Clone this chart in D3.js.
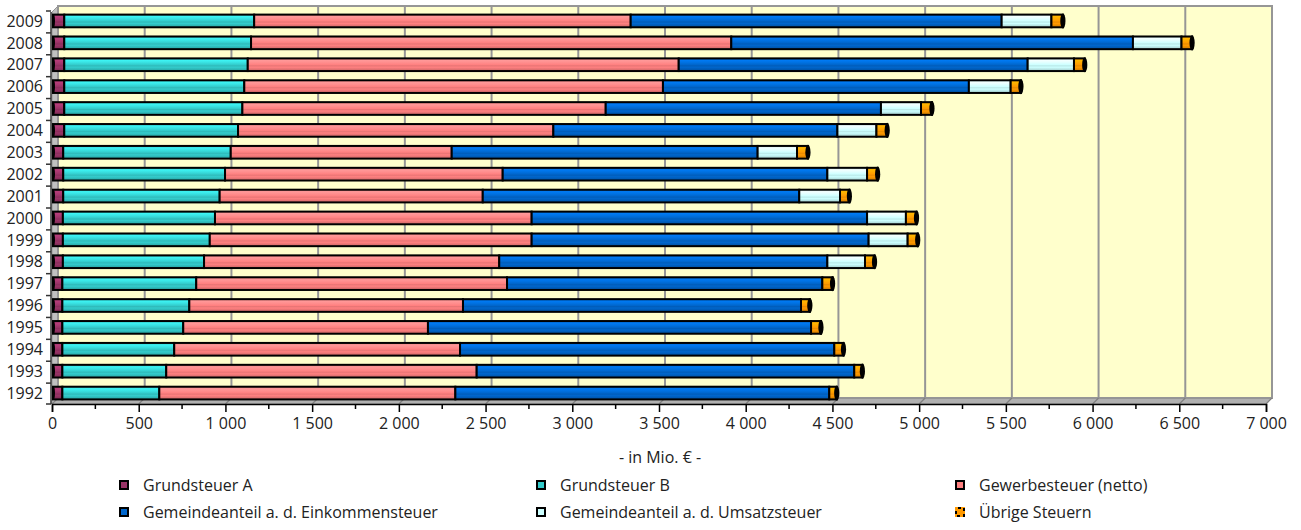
<!DOCTYPE html>
<html><head><meta charset="utf-8">
<script src="https://cdn.jsdelivr.net/npm/d3@7"></script>
<style>
html,body{margin:0;padding:0;background:#fff;}
svg{display:block;font-family:"Open Sans",sans-serif;}
</style></head>
<body>
<svg id="chart" width="1301" height="530"></svg>
<script>
// ---- data (Mio. €) ----
const years = ["1992","1993","1994","1995","1996","1997","1998","1999","2000","2001","2002","2003","2004","2005","2006","2007","2008","2009"];
const grundsteuerA   = [54,54,54,54,54,54,57,57,57,59,59,59,65,65,65,65,65,65];
const grundsteuerB   = [559,599,645,697,732,772,814,847,877,902,933,966,1002,1027,1038,1058,1077,1095];
const gewerbesteuer  = [1707,1790,1648,1411,1578,1792,1702,1856,1826,1517,1601,1274,1818,2095,2414,2485,2769,2171];
const einkommensteuer= [2156,2177,2158,2209,1949,1818,1892,1943,1934,1825,1872,1764,1638,1587,1764,2012,2316,2139];
const umsatzsteuer   = [0,0,0,0,0,0,217,225,224,235,229,227,225,231,241,267,280,287];
const uebrige        = [43,47,53,57,51,59,55,58,61,54,61,63,62,63,59,62,61,66];
const seriesNames = ["Grundsteuer A","Grundsteuer B","Gewerbesteuer (netto)","Gemeindeanteil a. d. Einkommensteuer","Gemeindeanteil a. d. Umsatzsteuer","Übrige Steuern"];
const seriesColors = ["#993366","#33CCCC","#FF8080","#0066CC","#CCFFFF","#FF9900"];
const xTicks = [0,500,1000,1500,2000,2500,3000,3500,4000,4500,5000,5500,6000,6500,7000];
const axisTitle = "- in Mio. € -";

const seriesValues = [grundsteuerA,grundsteuerB,gewerbesteuer,einkommensteuer,umsatzsteuer,uebrige];

const svg = d3.select("#chart");
const depthX = 6, depthY = 6;
const x = d3.scaleLinear().domain([0,7000]).range([52,1266]);
const xBar = d3.scaleLinear().domain([0,7000]).range([53,1267]);
const y = d3.scaleBand().domain(years.slice().reverse()).range([10,404]).paddingInner(0.42).paddingOuter(0.21);
const yBand = d3.scaleBand().domain(years.slice().reverse()).range([10,404]);
const axisY = 404;
const wallTop = 6, wallBottom = axisY - depthY;
const wallL = x(0)+depthX, wallR = x(7000)+depthX;

// gradients
const defs = svg.append("defs");
seriesColors.forEach((c,i)=>{
  const base = d3.color(c);
  const g = defs.append("linearGradient").attr("id","g"+i).attr("x1",0).attr("y1",0).attr("x2",0).attr("y2",1);
  const stops = [
    [0, base.darker(0.6)],
    [0.15, base.brighter(0.5)],
    [0.35, base.brighter(0.25)],
    [0.5, base],
    [0.58, base.darker(0.25)],
    [0.7, base],
    [1, base.darker(0.7)]
  ];
  stops.forEach(s=>g.append("stop").attr("offset",s[0]).attr("stop-color",s[1].formatHex()));
});

// left side wall
svg.append("polygon")
  .attr("points",[[x(0),axisY],[x(0),wallTop+depthY],[wallL,wallTop],[wallL,wallBottom]].map(p=>p.join(",")).join(" "))
  .attr("fill","#c0c0c0").attr("stroke","#969696").attr("stroke-width",1);
// floor
svg.append("polygon")
  .attr("points",[[x(0),axisY],[wallL,wallBottom],[wallR,wallBottom],[x(7000),axisY]].map(p=>p.join(",")).join(" "))
  .attr("fill","#b0b0b0").attr("stroke","#969696").attr("stroke-width",1);
// back wall
svg.append("rect").attr("x",wallL).attr("y",wallTop).attr("width",wallR-wallL).attr("height",wallBottom-wallTop)
  .attr("fill","#FFFFCC").attr("stroke","#969696").attr("stroke-width",2);
// gridlines on wall + floor
xTicks.slice(1,-1).forEach(t=>{
  svg.append("line").attr("x1",x(t)+depthX).attr("x2",x(t)+depthX).attr("y1",wallTop).attr("y2",wallBottom)
    .attr("stroke","#969696").attr("stroke-width",2);
});
xTicks.forEach(t=>{
  svg.append("line").attr("x1",x(t)).attr("x2",x(t)+depthX).attr("y1",axisY).attr("y2",wallBottom)
    .attr("stroke","#808080").attr("stroke-width",1.2);
});

// bars
const stackData = years.map((yr,i)=>{ let c=0; return seriesValues.map((s,k)=>{ const v=s[i]; const d={year:yr,k,x0:c,x1:c+v}; c+=v; return d; }); });
const barG = svg.append("g");
stackData.forEach(row=>{
  const yr = row[0].year;
  const y0 = y(yr), h = y.bandwidth();
  const segs = row.filter(d=>d.x1>d.x0);
  segs.forEach(d=>{
    barG.append("rect").attr("x",xBar(d.x0)).attr("y",y0).attr("width",xBar(d.x1)-xBar(d.x0)).attr("height",h)
      .attr("fill","url(#g"+d.k+")").attr("stroke","#000").attr("stroke-width",2);
  });
  const last = segs[segs.length-1];
  barG.append("ellipse").attr("cx",xBar(last.x1)).attr("cy",y0+h/2).attr("rx",2.6).attr("ry",h/2+1.2).attr("fill","#000");
  barG.append("ellipse").attr("cx",xBar(0)+0.5).attr("cy",y0+h/2).attr("rx",1.5).attr("ry",h/2+0.5).attr("fill","#000");
});

// y axis
svg.append("line").attr("x1",x(0)-1).attr("x2",x(0)-1).attr("y1",wallTop+depthY).attr("y2",axisY).attr("stroke","#333").attr("stroke-width",1.5);
yBand.domain().forEach((yr,i)=>{
  svg.append("line").attr("x1",x(0)-6).attr("x2",x(0)-1).attr("y1",yBand(yr)+1).attr("y2",yBand(yr)+1).attr("stroke","#333").attr("stroke-width",1.5);
});
svg.append("line").attr("x1",x(0)-6).attr("x2",x(0)-1).attr("y1",axisY).attr("y2",axisY).attr("stroke","#333").attr("stroke-width",1.5);
svg.append("g").selectAll("text").data(years).join("text")
  .attr("x",43).attr("y",d=>yBand(d)+yBand.bandwidth()/2).attr("dy","0.36em")
  .attr("text-anchor","end").attr("font-size",16).attr("fill","#222").text(d=>d);

// x axis
const loc = d3.formatLocale({decimal:",",thousands:"\u2009",grouping:[3],currency:["","€"]});
const fmt = v => loc.format(",d")(v).replace("\u2009"," ");
const xAxis = d3.axisBottom(x).tickValues(xTicks).tickFormat(fmt).tickSize(8).tickPadding(6);
const ax = svg.append("g").attr("transform",`translate(0,${axisY})`).call(xAxis);
ax.select(".domain").attr("stroke","#000").attr("stroke-width",1.5);
ax.selectAll(".tick line").attr("stroke","#000").attr("stroke-width",1.5);
ax.selectAll(".tick text").attr("font-size",16).attr("font-family","Open Sans").attr("fill","#222");
const minor = d3.range(250,7000,500);
ax.append("g").selectAll("line").data(minor).join("line")
  .attr("x1",d=>x(d)).attr("x2",d=>x(d)).attr("y1",0).attr("y2",5).attr("stroke","#000").attr("stroke-width",1.5);

svg.append("text").attr("x",660).attr("y",457).attr("dy","0.35em").attr("text-anchor","middle")
  .attr("font-size",16).attr("fill","#222").text(axisTitle);

// legend
const legX = [119,536,955], legY = [485,512];
seriesNames.forEach((n,i)=>{
  const cx = legX[i%3], cy = legY[Math.floor(i/3)];
  const g = svg.append("g");
  if(i===5){
    g.append("rect").attr("x",cx).attr("y",cy-5).attr("width",10).attr("height",10).attr("fill",seriesColors[i]);
    g.append("rect").attr("x",cx+1).attr("y",cy-4).attr("width",8).attr("height",8).attr("fill","none")
      .attr("stroke","#000").attr("stroke-width",2).attr("stroke-dasharray","3,3").attr("stroke-dashoffset",-2);
  } else {
    g.append("rect").attr("x",cx+1).attr("y",cy-4).attr("width",8).attr("height",8).attr("fill",seriesColors[i])
      .attr("stroke","#000").attr("stroke-width",2);
  }
  g.append("text").attr("x",cx+24).attr("y",cy).attr("dy","0.35em").attr("font-size",16).attr("fill","#222").text(n);
});
</script>
</body></html>
